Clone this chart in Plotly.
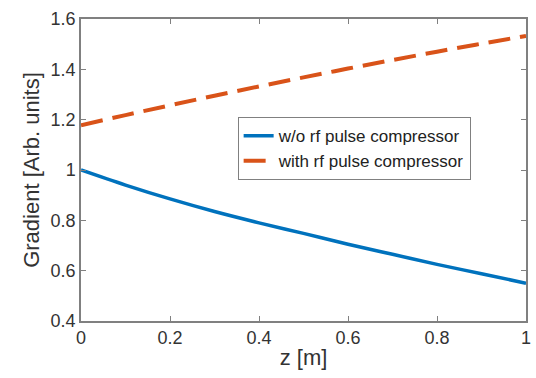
import plotly.graph_objects as go

z = [0.0, 0.1, 0.2, 0.3, 0.4, 0.5, 0.6, 0.7, 0.8, 0.9, 1.0]
without_comp = [1.0, 0.940, 0.885, 0.835, 0.790, 0.748, 0.705, 0.665, 0.625, 0.588, 0.550]
with_comp = [1.178, 1.218, 1.257, 1.295, 1.332, 1.368, 1.403, 1.437, 1.470, 1.502, 1.533]

x_ticks = [0, 0.2, 0.4, 0.6, 0.8, 1]
x_tick_labels = ["0", "0.2", "0.4", "0.6", "0.8", "1"]
y_ticks = [0.4, 0.6, 0.8, 1.0, 1.2, 1.4, 1.6]
y_tick_labels = ["0.4", "0.6", "0.8", "1", "1.2", "1.4", "1.6"]

fig = go.Figure()
fig.add_trace(go.Scatter(x=z, y=without_comp, mode="lines", name="w/o rf pulse compressor",
                         line=dict(color="#0072BD", width=3.5, shape="spline")))
fig.add_trace(go.Scatter(x=z, y=with_comp, mode="lines", name="with rf pulse compressor",
                         line=dict(color="#D95319", width=4, dash="22px,10px", shape="spline")))

axis_common = dict(showline=True, linecolor="#808080", linewidth=1.5, mirror="ticks",
                   ticks="inside", ticklen=5, tickcolor="#808080", showgrid=False, zeroline=False,
                   ticklabeloverflow="allow",
                   tickfont=dict(family="Liberation Sans, Arial", size=18, color="#333333"))

fig.update_layout(
    width=536, height=378,
    margin=dict(l=81, r=5, t=19, b=57),
    paper_bgcolor="white", plot_bgcolor="white",
    font=dict(family="Liberation Sans, Arial", color="#333333"),
    xaxis=dict(range=[0, 1], tickvals=x_ticks, ticktext=x_tick_labels,
               title=dict(text="z [m]", font=dict(size=22, color="#333333"), standoff=2),
               **axis_common),
    yaxis=dict(range=[0.4, 1.6], tickvals=y_ticks, ticktext=y_tick_labels,
               title=dict(text="Gradient [Arb. units]", font=dict(size=22, color="#333333"), standoff=5),
               **axis_common),
    legend=dict(x=0.352, y=0.675, xanchor="left", yanchor="top",
                bordercolor="#808080", borderwidth=1, bgcolor="white",
                font=dict(family="Liberation Sans, Arial", size=17, color="#222222"),
                tracegroupgap=0, itemwidth=30),
    showlegend=True,
)

fig.write_html("out.html")
